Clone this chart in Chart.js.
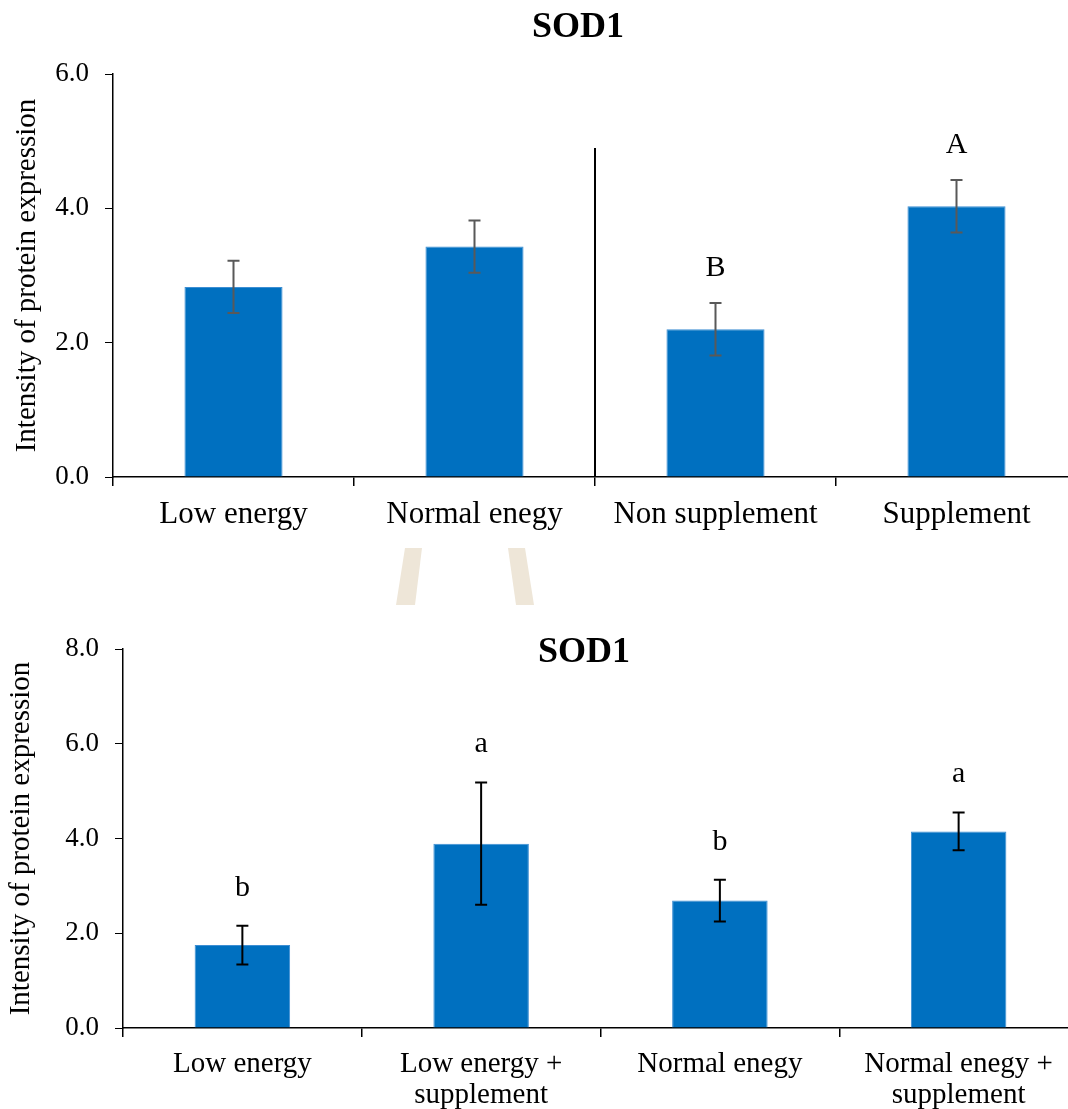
<!DOCTYPE html>
<html>
<head>
<meta charset="utf-8">
<script src="https://cdn.jsdelivr.net/npm/chart.js@4"></script>
<style>
  body { margin: 0; width: 1068px; height: 1109px; overflow: hidden; background: #fff; position: relative; }
  .panel { position: absolute; left: 0; width: 1080px; }
  .mark { position: absolute; background: #eee6d8; }
</style>
</head>
<body>
<div class="panel" style="top:0;height:540px"><canvas id="chartTop" width="1080" height="540"></canvas></div>
<div class="panel" style="top:540px;height:569px"><canvas id="chartBottom" width="1080" height="569"></canvas></div>
<div class="mark" style="left:394px;top:548px;width:30px;height:57px;clip-path:polygon(11px 0,28px 0,21px 57px,2px 57px)"></div>
<div class="mark" style="left:506px;top:548px;width:30px;height:57px;clip-path:polygon(2px 0,19px 0,28px 57px,10px 57px)"></div>
<script>
// top panel: energy groups | supplement groups
const topLabels = ['Low energy', 'Normal enegy', 'Non supplement', 'Supplement'];
const topMeans = [2.83, 3.43, 2.20, 4.03];
const topErrors = [0.39, 0.39, 0.39, 0.39];
const topLetters = ['', '', 'B', 'A'];
const topTicks = [0, 2, 4, 6];
const dividerTop = 4.9;

// bottom panel: four treatments
const bottomLabels = ['Low energy', ['Low energy +', 'supplement'], 'Normal enegy', ['Normal enegy +', 'supplement']];
const bottomMeans = [1.75, 3.89, 2.69, 4.15];
const bottomErrors = [0.41, 1.29, 0.44, 0.40];
const bottomLetters = ['b', 'a', 'b', 'a'];
const bottomTicks = [0, 2, 4, 6, 8];

const serif = '"Liberation Serif", "Times New Roman", serif';
const blue = '#0070c0';

function errorBars(errors, letters, color, gap) {
  return {
    id: 'errorBars',
    afterDatasetsDraw(chart) {
      const ctx = chart.ctx;
      const y = chart.scales.y;
      const meta = chart.getDatasetMeta(0);
      const values = chart.data.datasets[0].data;
      ctx.save();
      ctx.strokeStyle = color;
      ctx.lineWidth = 2;
      meta.data.forEach((bar, i) => {
        const hi = y.getPixelForValue(values[i] + errors[i]);
        const lo = y.getPixelForValue(values[i] - errors[i]);
        ctx.beginPath();
        ctx.moveTo(bar.x, hi); ctx.lineTo(bar.x, lo);
        ctx.moveTo(bar.x - 6, hi); ctx.lineTo(bar.x + 6, hi);
        ctx.moveTo(bar.x - 6, lo); ctx.lineTo(bar.x + 6, lo);
        ctx.stroke();
        if (letters[i]) {
          ctx.fillStyle = '#000';
          ctx.font = '30px ' + serif;
          ctx.textAlign = 'center';
          ctx.textBaseline = 'middle';
          ctx.fillText(letters[i], bar.x, hi - gap);
        }
      });
      ctx.restore();
    }
  };
}

function heading(text, x, y) {
  return {
    id: 'heading',
    afterDraw(chart) {
      const ctx = chart.ctx;
      ctx.save();
      ctx.fillStyle = '#000';
      ctx.font = 'bold 36px ' + serif;
      ctx.textAlign = 'center';
      ctx.textBaseline = 'middle';
      ctx.fillText(text, x, y);
      ctx.restore();
    }
  };
}

const divider = {
  id: 'divider',
  afterDatasetsDraw(chart) {
    const {ctx, scales: {x, y}} = chart;
    const px = x.getPixelForValue(1.5);
    ctx.save();
    ctx.strokeStyle = '#000';
    ctx.lineWidth = 2;
    ctx.beginPath();
    ctx.moveTo(px, y.getPixelForValue(dividerTop));
    ctx.lineTo(px, y.getPixelForValue(0));
    ctx.stroke();
    ctx.restore();
  }
};

function makeChart(id, labels, means, ticks, opts) {
  return new Chart(document.getElementById(id), {
    type: 'bar',
    data: {
      labels: labels,
      datasets: [{
        data: means,
        backgroundColor: blue,
        borderColor: '#3d8ed3',
        borderWidth: { left: 1, right: 1, top: 1, bottom: 0 },
        barPercentage: opts.barPct,
        categoryPercentage: 1
      }]
    },
    options: {
      responsive: false,
      animation: false,
      layout: { padding: { top: opts.top, right: opts.right, left: 0, bottom: 0 } },
      plugins: { legend: { display: false }, tooltip: { enabled: false } },
      scales: {
        x: {
          afterFit: (s) => { s.height = opts.xHeight; },
          grid: { drawOnChartArea: false, tickLength: 9, color: '#000', lineWidth: 1.5 },
          border: { color: '#000', width: 1.5 },
          ticks: {
            color: '#000',
            padding: opts.xPad,
            maxRotation: 0,
            autoSkip: false,
            font: { family: serif, size: opts.xFont, lineHeight: opts.xLine }
          }
        },
        y: {
          min: 0,
          max: ticks[ticks.length - 1],
          afterFit: (s) => { s.width = opts.yWidth; },
          afterBuildTicks: (s) => { s.ticks = ticks.map(v => ({ value: v })); },
          grid: { drawOnChartArea: false, tickLength: 8, color: '#000', lineWidth: 1 },
          border: { color: '#000', width: 1.5 },
          ticks: {
            color: '#000',
            padding: 16,
            font: { family: serif, size: 27 },
            callback: (v) => Number(v).toFixed(1)
          },
          title: {
            display: true,
            text: 'Intensity of protein expression',
            color: '#000',
            padding: { top: opts.titlePad, bottom: 0 },
            font: { family: serif, size: 29, lineHeight: 1.2 }
          }
        }
      }
    },
    plugins: opts.plugins
  });
}

makeChart('chartTop', topLabels, topMeans, topTicks, {
  top: 74, right: 3, xHeight: 63, yWidth: 113, barPct: 0.407,
  xPad: 10, xFont: 31, xLine: 1.2, titlePad: 10,
  plugins: [divider, errorBars(topErrors, topLetters, '#595959', 35), heading('SOD1', 578, 28)]
});

makeChart('chartBottom', bottomLabels, bottomMeans, bottomTicks, {
  top: 109, right: 2, xHeight: 81, yWidth: 123, barPct: 0.40,
  xPad: 11, xFont: 29, xLine: 1.1, titlePad: 4,
  plugins: [errorBars(bottomErrors, bottomLetters, '#000', 38), heading('SOD1', 584, 113)]
});
</script>
</body>
</html>
